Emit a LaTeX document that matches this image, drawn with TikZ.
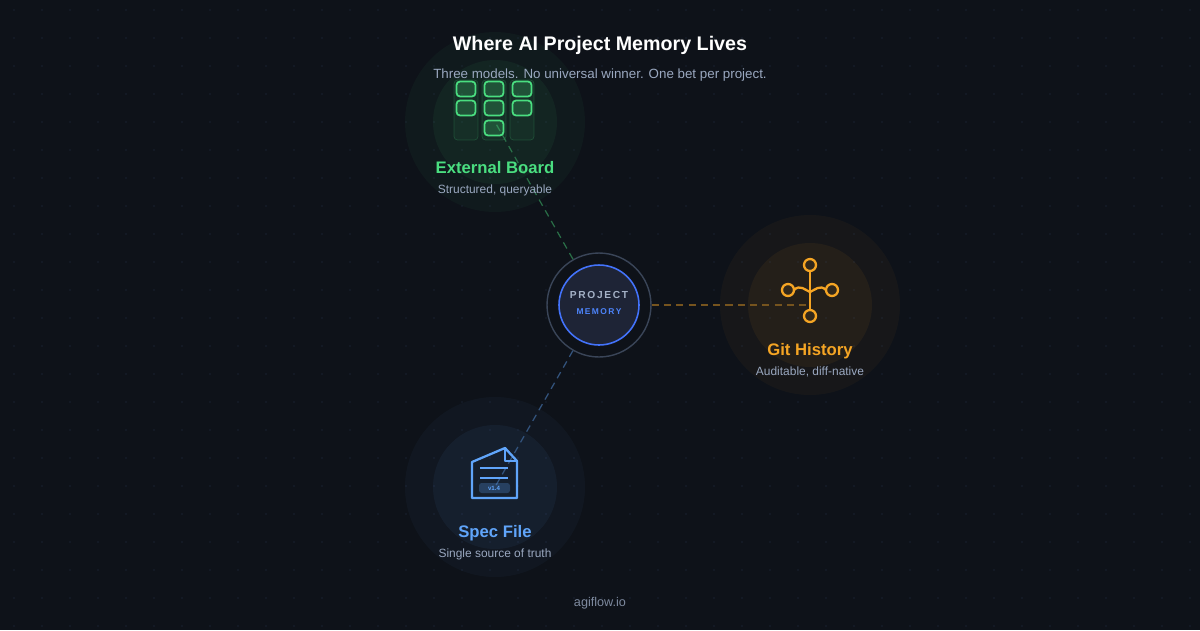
\documentclass[tikz,border=0pt]{standalone}
\usepackage{fontspec}
\setmainfont{Liberation Sans}
\usetikzlibrary{arrows.meta}
\definecolor{bg}{HTML}{0E1219}
\definecolor{dotc}{HTML}{1A2230}
\definecolor{boardc}{HTML}{4ADE80}
\definecolor{gitc}{HTML}{F5A524}
\definecolor{specc}{HTML}{60A5FA}
\definecolor{subc}{HTML}{9AA8C0}
\definecolor{ringc}{HTML}{3A4558}
\definecolor{corec}{HTML}{1E2436}
\tikzset{
  every picture/.style={font={\sffamily\normalsize}, >=stealth},
  halo/.style={circle, fill=#1, fill opacity=0.04, minimum size=3.6cm, inner sep=0pt},
  core/.style={circle, fill=#1, fill opacity=0.06, minimum size=2.48cm, inner sep=0pt},
  link/.style={dashed, dash pattern=on 4pt off 3pt, line width=0.7pt, draw=#1!45!bg},
  heading/.style={font=\fontsize{9.5}{11}\selectfont\bfseries, text=#1},
  caption/.style={font=\fontsize{6.8}{8}\selectfont, text=subc}}

\begin{document}
\begin{tikzpicture}[x=0.02cm, y=-0.02cm]
    \useasboundingbox (0, 0) rectangle (1200, 630);
    \clip (0, 0) rectangle (1200, 630);
    \fill[bg] (0, 0) rectangle (1200, 630);
    \foreach \i in {0,...,42}
      \foreach \j in {0,...,22}
        \fill[dotc] (\i*28+14, \j*28+10) circle (0.8);

    \node[halo=boardc] (BH) at (495, 122) {};
    \node[core=boardc] (BC) at (495, 122) {};
    \node[halo=gitc] (GH) at (810, 305) {};
    \node[core=gitc] (GC) at (810, 305) {};
    \node[halo=specc] (SH) at (495, 487) {};
    \node[core=specc] (SC) at (495, 487) {};

    \coordinate (Bend) at (495, 122);
    \coordinate (Gend) at (810, 305);
    \coordinate (Send) at (495, 487);
    \node[circle, draw=ringc, line width=0.8pt, fill=bg, minimum size=2.08cm, inner sep=0pt] (M) at (599, 305) {};
    \draw[link=boardc] (M) -- (Bend);
    \draw[link=gitc] (M) -- (Gend);
    \draw[link=specc] (M) -- (Send);
    \node[circle, draw=specc!70!blue, line width=0.9pt, fill=corec, minimum size=1.6cm, inner sep=0pt] (P) at (599, 305) {};
    \node[font=\fontsize{5.8}{7}\selectfont\bfseries, text=subc!90!white] at (599, 295) {P\,R\,O\,J\,E\,C\,T};
    \node[font=\fontsize{4.8}{6}\selectfont\bfseries, text=specc!80!blue] at (599, 312) {M\,E\,M\,O\,R\,Y};

    % board icon
    \foreach \x in {466, 494, 522}
      \draw[boardc, draw opacity=0.2, fill=boardc, fill opacity=0.06, rounded corners=2pt] (\x-12, 80) rectangle (\x+12, 140);
    \foreach \x/\y in {466/89, 494/89, 522/89, 466/108, 494/108, 522/108, 494/128}
      \draw[boardc, line width=1pt, fill=boardc, fill opacity=0.2, rounded corners=2pt] (\x-9.5, \y-7.5) rectangle (\x+9.5, \y+7.5);

    % git icon
    \draw[gitc, line width=1.3pt] (810, 271) -- (810, 310);
    \draw[gitc, line width=1.3pt] (794, 290) .. controls (800, 284) and (805, 290) .. (810, 292);
    \draw[gitc, line width=1.3pt] (826, 290) .. controls (820, 284) and (815, 290) .. (810, 292);
    \foreach \x/\y in {810/265, 788/290, 832/290, 810/316}
      \draw[gitc, line width=1.3pt, fill=bg!85!gitc] (\x, \y) circle (6);

    % spec icon
    \draw[specc, line width=1.3pt, line join=round] (472, 462) -- (505, 448) -- (517, 461) -- (517, 498) -- (472, 498) -- cycle;
    \draw[specc, line width=1.3pt, line join=round] (505, 448) -- (505, 461) -- (517, 461);
    \draw[specc, line width=1.2pt] (480, 468) -- (508, 468) (480, 478) -- (508, 478);
    \fill[specc, fill opacity=0.25, rounded corners=1.5pt] (479, 483) rectangle (510, 493);
    \node[font=\fontsize{3.5}{4}\selectfont\bfseries, text=specc] at (494, 488.5) {v1.4};

    \node[heading=boardc] (BL) at (495, 168) {External Board};
    \node[caption] (BS) at (495, 190) {Structured, queryable};
    \node[heading=gitc] (GL) at (810, 351) {Git History};
    \node[caption] (GS) at (810, 372) {Auditable, diff-native};
    \node[heading=specc] (SL) at (495, 533) {Spec File};
    \node[caption] (SS) at (495, 554) {Single source of truth};

    \node[font=\fontsize{11.2}{13}\selectfont\bfseries, text=white] (T) at (600, 45) {Where AI Project Memory Lives};
    \node[font=\fontsize{7.6}{9}\selectfont, text=subc] (ST) at (600, 75) {Three models. No universal winner. One bet per project.};
    \node[font=\fontsize{7.2}{9}\selectfont, text=subc!80!bg] (F) at (600, 603) {agiflow.io};
  \end{tikzpicture}
\end{document}
